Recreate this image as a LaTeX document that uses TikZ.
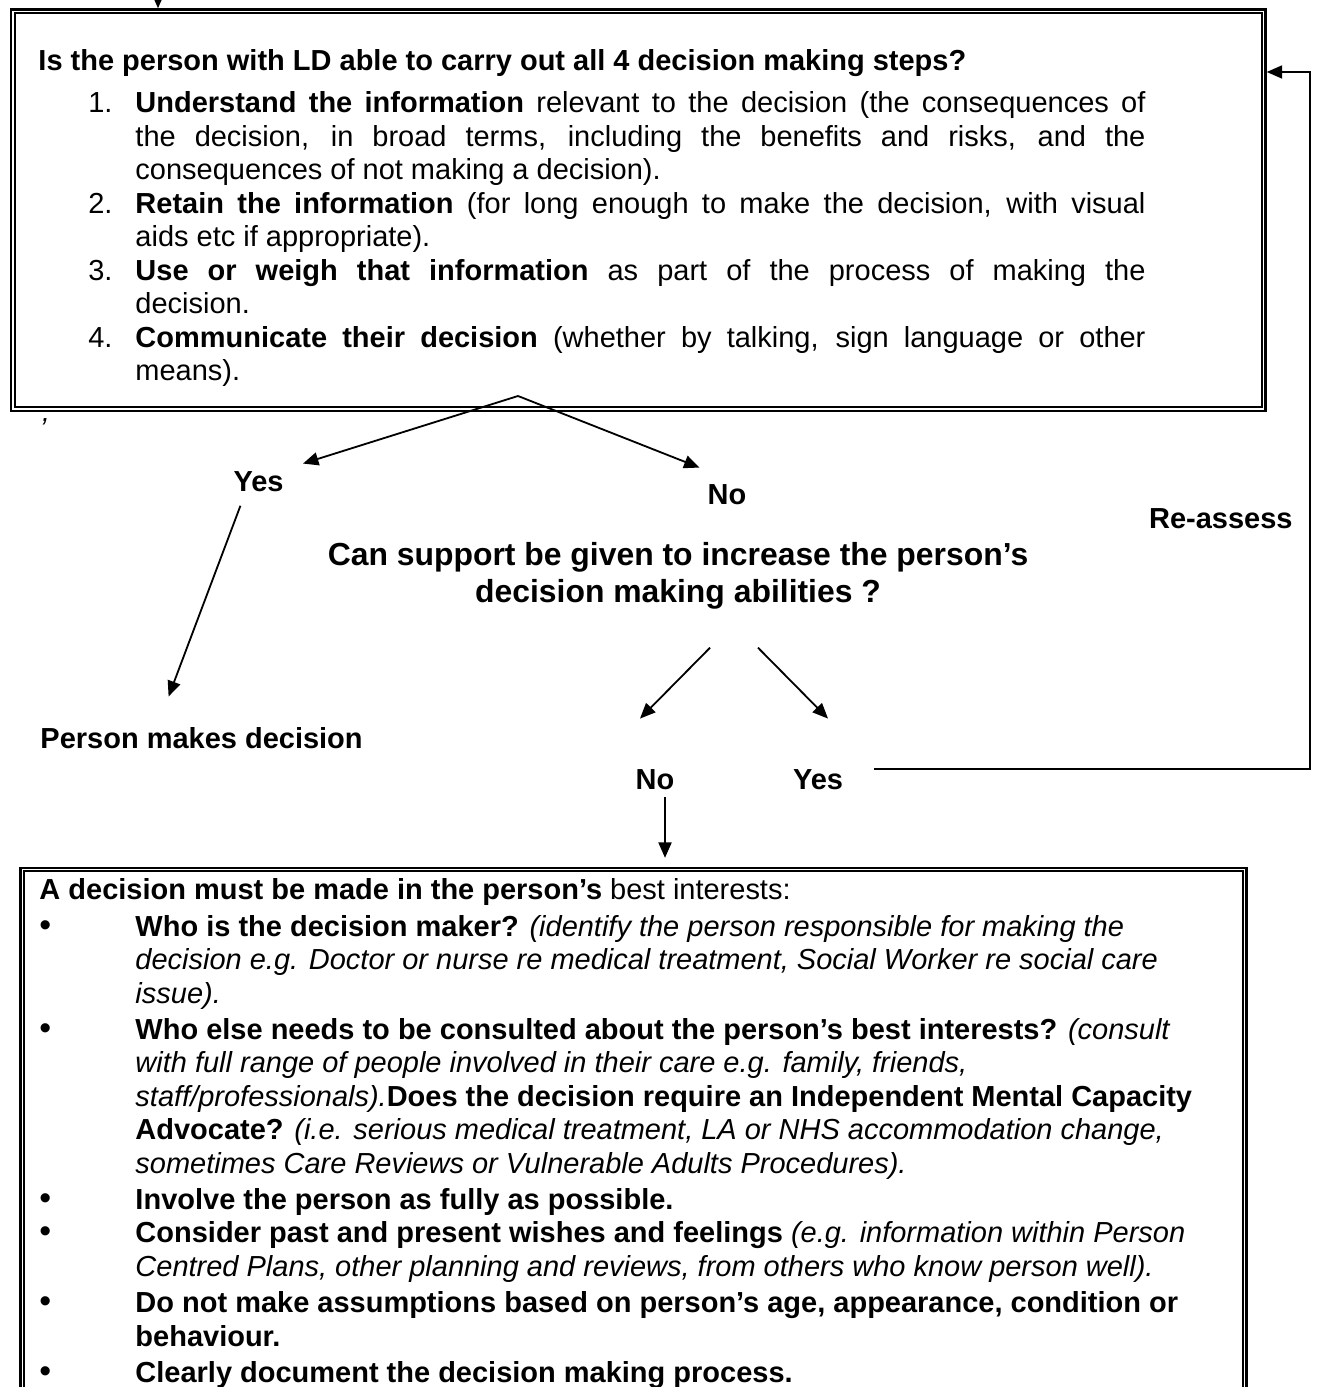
\documentclass[tikz,border=0pt]{standalone}
\usepackage{fontspec}
\setmainfont{Liberation Sans}
\usetikzlibrary{arrows.meta,fit}
\newdimen\px \px=0.414pt
\newcommand\bodyfont{\fontsize{12pt}{13.87pt}\selectfont}
\newcommand\bulletmark{{\fontsize{14pt}{14pt}\selectfont •}}
\newenvironment{numitems}{\begin{list}{}{%
  \setlength\leftmargin{97\px}\setlength\labelsep{23\px}\setlength\labelwidth{74\px}%
  \setlength\topsep{3.5pt}\setlength\partopsep{0pt}\setlength\itemsep{0pt}\setlength\parsep{0pt}}}%
 {\end{list}}
\newenvironment{bulitems}{\begin{list}{}{%
  \setlength\leftmargin{96\px}\setlength\labelsep{0pt}\setlength\labelwidth{96\px}%
  \setlength\topsep{1.45pt}\setlength\partopsep{0pt}\setlength\itemsep{1.1pt}\setlength\parsep{0pt}%
  \renewcommand\makelabel[1]{##1\hfil}}}%
 {\end{list}}
\tikzset{
  lbl/.style={font=\bodyfont\bfseries, inner sep=0pt},
  txt/.style={font=\bodyfont, inner sep=0pt, anchor=base west},
  arr/.style={line width=0.75pt, -{Triangle[length=6.4pt,width=5.4pt]}},
  outerb/.style={draw, line width=1pt, inner sep=0pt},
  innerb/.style={line width=0.7pt},
}
\begin{document}
\begin{tikzpicture}[x=0.414pt, y=-0.414pt]
\useasboundingbox (0,0) rectangle (1318,1387);

% ---------- top box ----------
\coordinate (b1a) at (11,9.5);
\coordinate (b1b) at (1265.5,411);
\node[outerb, fit=(b1a)(b1b)] (box1) {};
\draw[innerb] ([shift={(5,5)}]box1.north west) rectangle ([shift={(-5,-5)}]box1.south east);

\node[txt] (qtext) at (38,71) {\parbox[t]{1107\px}{%
\textbf{Is the person with LD able to carry out all 4 decision making steps?}\par
\begin{numitems}
\item[1.] \textbf{Understand the information} relevant to the decision (the consequences of\linebreak
the decision, in broad terms, including the benefits and risks, and the\linebreak
consequences of not making a decision).
\item[2.] \textbf{Retain the information} (for long enough to make the decision, with visual\linebreak
aids etc if appropriate).
\item[3.] \textbf{Use or weigh that information} as part of the process of making the\linebreak
decision.
\item[4.] \textbf{Communicate their decision} (whether by talking, sign language or other\linebreak
means).
\end{numitems}}};

\coordinate (topin) at (158,-20);
\draw[arr] (topin) -- (topin |- box1.north);

\node[font=\bodyfont\itshape, inner sep=0pt] (mark) at (43,429) {’};

% ---------- middle ----------
\coordinate (apex) at (518,396);
\node[lbl, anchor=base] (yes1) at (258.5,492) {Yes};
\node[lbl, anchor=base] (no1) at (727,505) {No};
\draw[arr] (apex) -- ([shift={(19,-8)}]yes1.north east);
\draw[arr] (apex) -- ([shift={(-7.7,-17)}]no1.north west);

\node[lbl, anchor=base west] (pm) at (40,748) {Person makes decision};
\draw[arr] ([shift={(7.4,13)}]yes1.south west) -- ([shift={(-33,-30)}]pm.north);

\node[lbl, anchor=base east] (reas) at (1293,529) {Re-assess};

\node[anchor=base, inner sep=0pt, font=\fontsize{13.2pt}{15.1pt}\selectfont\bfseries] (canq) at (678,566)
  {\parbox[t]{900\px}{\centering Can support be given to increase the person’s\\ decision making abilities ?}};

\node[lbl, anchor=base] (no2) at (655,789) {No};
\node[lbl, anchor=base] (yes2) at (818,789) {Yes};
\draw[arr] ([shift={(32,38)}]canq.south) -- ([shift={(-15,-50)}]no2.north);
\draw[arr] ([shift={(80,38)}]canq.south) -- ([shift={(10,-50)}]yes2.north);

\coordinate (rtop) at (1310,72);
\draw[arr] ([shift={(31,-10)}]yes2.east) -| (rtop) -- (rtop -| box1.east);

% ---------- bottom box ----------
\coordinate (b2a) at (20.5,868);
\coordinate (b2b) at (1246.5,1440);
\node[outerb, fit=(b2a)(b2b)] (box2) {};
\draw[innerb] ([shift={(4.5,4.5)}]box2.north west) rectangle ([shift={(-4.5,-4.5)}]box2.south east);

\draw[arr, shorten >=6.6pt] ([shift={(10,7)}]no2.south) -- ([shift={(10,7)}]no2.south |- box2.north);

\node[txt] (btext) at (39,899) {\parbox[t]{1200\px}{\raggedright
\textbf{A decision must be made in the person’s} best interests:\par
\begin{bulitems}
\item[\bulletmark] \textbf{Who is the decision maker?} \textit{(identify the person responsible for making the\\
decision e.g. Doctor or nurse re medical treatment, Social Worker re social care\\
issue).}
\item[\bulletmark] \textbf{Who else needs to be consulted about the person’s best interests?} \textit{(consult\\
with full range of people involved in their care e.g. family, friends,\\
staff/professionals).}\textbf{Does the decision require an Independent Mental Capacity\\
Advocate?} \textit{(i.e. serious medical treatment, LA or NHS accommodation change,\\
sometimes Care Reviews or Vulnerable Adults Procedures).}
\item[\bulletmark] \textbf{Involve the person as fully as possible.}
\setlength\itemsep{0pt}
\item[\bulletmark] \textbf{Consider past and present wishes and feelings} \textit{(e.g. information within Person\\
Centred Plans, other planning and reviews, from others who know person well).}
\setlength\itemsep{1.1pt}
\item[\bulletmark] \textbf{Do not make assumptions based on person’s age, appearance, condition or\\
behaviour.}
\item[\bulletmark] \textbf{Clearly document the decision making process.}
\end{bulitems}}};
\end{tikzpicture}
\end{document}
